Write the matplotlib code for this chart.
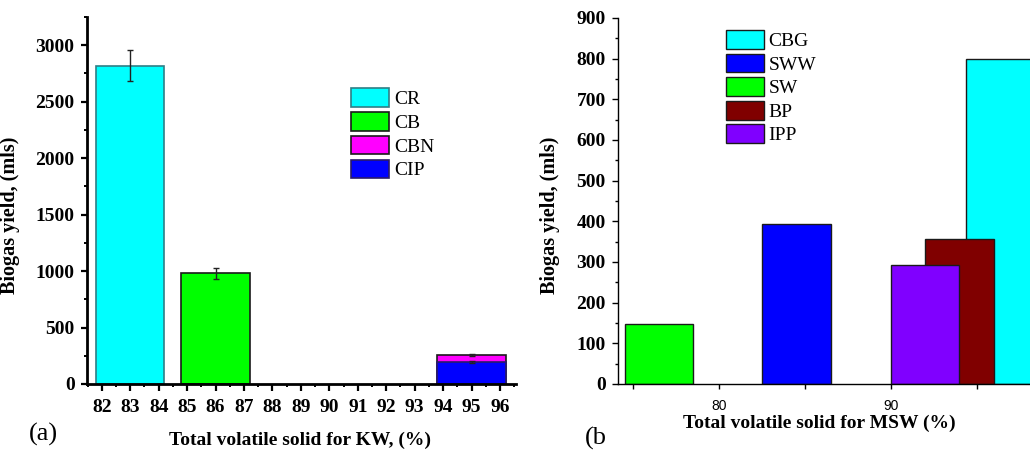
import matplotlib
matplotlib.use('Agg')

import matplotlib.pyplot as plt
from matplotlib.ticker import MultipleLocator

# (a) kitchen waste
kw_labels = ['CR', 'CB', 'CBN', 'CIP']
kw_positions = [83, 86, 95, 95]
kw_values = [2820, 980, 257, 195]
kw_errors = [140, 50, 10, 6]
kw_colors = ['#00FFFF', '#00FF00', '#FF00FF', '#0000FF']
kw_edges = ['#2E7F86', '#1A1A1A', '#1A1A1A', '#2A1A6A']
kw_ticks = list(range(82, 97))

# (b) municipal solid waste
msw_labels = ['CBG', 'SWW', 'SW', 'BP', 'IPP']
msw_positions = [96.4, 84.5, 76.5, 94, 92]
msw_values = [800, 394, 147, 356, 293]
msw_colors = ['#00FFFF', '#0000FF', '#00FF00', '#800000', '#8000FF']
msw_ticks = [80, 90]

SERIF = 'Liberation Serif'
W, H = 1030, 450

fig = plt.figure(figsize=(10.3, 4.5), dpi=100)

# ---- panel (a)
ax1 = fig.add_axes([87 / W, 66 / H, (516 - 87) / W, (384 - 17) / H])
for lab, x, v, e, c, ec in zip(kw_labels, kw_positions, kw_values, kw_errors, kw_colors, kw_edges):
    ax1.bar(x, v, width=2.4, color=c, edgecolor=ec, linewidth=1.2, label=lab)
    ax1.errorbar(x, v, yerr=e, fmt='none', ecolor='#222222', elinewidth=1, capsize=2.5, capthick=1)

ax1.set_xlim(81.48, 96.56)
ax1.set_ylim(0, 3250)
ax1.set_xticks(kw_ticks)
ax1.xaxis.set_minor_locator(MultipleLocator(0.5))
ax1.yaxis.set_major_locator(MultipleLocator(500))
ax1.yaxis.set_minor_locator(MultipleLocator(250))
for s in ['top', 'right']:
    ax1.spines[s].set_visible(False)
for s in ['left', 'bottom']:
    ax1.spines[s].set_linewidth(2.0)
ax1.tick_params(which='major', direction='out', length=4, width=1.6, labelsize=14, pad=5)
ax1.tick_params(axis='x', which='major', length=5, pad=6)
ax1.tick_params(which='minor', direction='out', length=2.5, width=1.4)
for t in ax1.get_xticklabels() + ax1.get_yticklabels():
    t.set_fontfamily(SERIF)
    t.set_fontweight('bold')

ax1.set_ylabel('Biogas yield, (mls)', fontsize=14.5, fontweight='bold', family=SERIF)
ax1.yaxis.set_label_coords(-0.156, 0.46)
ax1.set_xlabel('Total volatile solid for KW, (%)', fontsize=14, fontweight='bold', family=SERIF)
ax1.xaxis.set_label_coords(0.497, -0.153)
ax1.xaxis.label.set_va('center')

leg1 = ax1.legend(loc='upper left', bbox_to_anchor=(351 / W, 1 - 88 / H), bbox_transform=fig.transFigure,
                  frameon=False, borderpad=0, borderaxespad=0, handlelength=1.95, handleheight=1.1,
                  labelspacing=0.2, handletextpad=0.28, prop={'family': SERIF, 'size': 14})

fig.text(43 / W, 1 - 434 / H, '(a)', fontsize=19, family=SERIF, ha='center', va='center')

# ---- panel (b)
ax2 = fig.add_axes([617.7 / W, 66 / H, 427.5 / W, (384 - 18) / H])
for lab, x, v, c in zip(msw_labels, msw_positions, msw_values, msw_colors):
    ax2.bar(x, v, width=4, color=c, edgecolor='#1A1A1A', linewidth=1.0, label=lab)

ax2.set_xlim(74.1, 99)
ax2.set_ylim(0, 900)
ax2.set_xticks(msw_ticks)
ax2.xaxis.set_minor_locator(MultipleLocator(5))
ax2.yaxis.set_major_locator(MultipleLocator(100))
ax2.yaxis.set_minor_locator(MultipleLocator(50))
for s in ['top', 'right']:
    ax2.spines[s].set_visible(False)
for s in ['left', 'bottom']:
    ax2.spines[s].set_linewidth(1.0)
ax2.tick_params(which='major', direction='out', length=4.5, width=1.0, pad=4)
ax2.tick_params(which='minor', direction='out', length=2.5, width=1.0)
ax2.tick_params(axis='x', which='both', length=3.5, pad=7)
ax2.tick_params(axis='y', labelsize=14)
ax2.tick_params(axis='x', labelsize=10)
for t in ax2.get_yticklabels():
    t.set_fontfamily(SERIF)
    t.set_fontweight('bold')
for t in ax2.get_xticklabels():
    t.set_fontfamily('Liberation Sans')

ax2.set_ylabel('Biogas yield, (mls)', fontsize=14.5, fontweight='bold', family=SERIF)
ax2.yaxis.set_label_coords(-0.135, 0.46)
ax2.set_xlabel('Total volatile solid for MSW (%)', fontsize=14, fontweight='bold', family=SERIF)
ax2.xaxis.set_label_coords(0.471, -0.1066)
ax2.xaxis.label.set_va('center')

leg2 = ax2.legend(loc='upper left', bbox_to_anchor=(725.7 / W, 1 - 30 / H), bbox_transform=fig.transFigure,
                  frameon=False, borderpad=0, borderaxespad=0, handlelength=1.95, handleheight=1.12,
                  labelspacing=0.18, handletextpad=0.25, prop={'family': SERIF, 'size': 14})

fig.text(585 / W, 1 - 438 / H, '(b', fontsize=19, family=SERIF, ha='left', va='center')

fig.savefig('out.png', dpi=100)
plt.close(fig)
